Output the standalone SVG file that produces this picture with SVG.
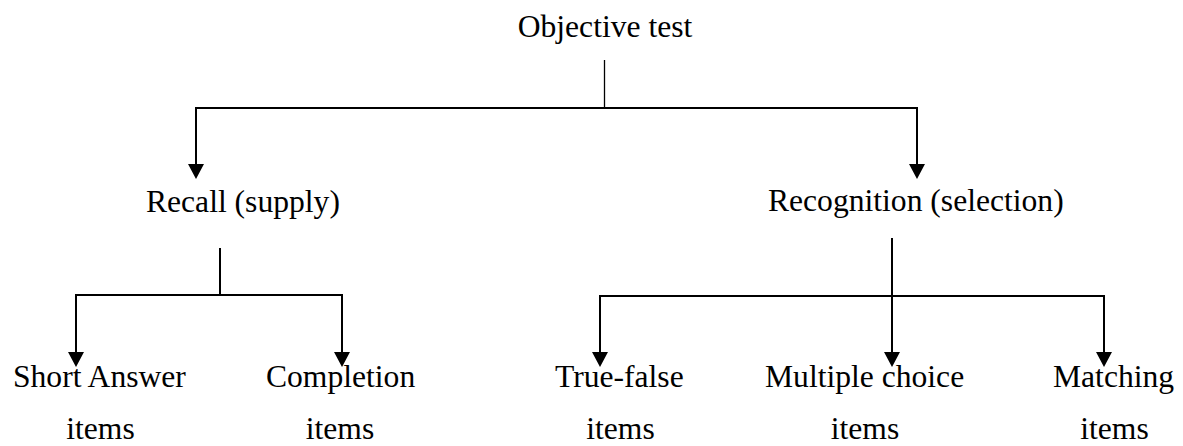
<svg xmlns="http://www.w3.org/2000/svg" width="1183" height="446" viewBox="0 0 1183 446">
  <style>
    .lbl { font-family: "Liberation Serif", "Times New Roman", serif; font-size: 31.6px; fill: #000; }
    .ln { stroke: #000; stroke-width: 2; fill: none; }
    .stem { stroke: #000; stroke-width: 1.3; fill: none; }
    .head { fill: #000; }
  </style>
  <rect width="1183" height="446" fill="#fff"/>

  <g id="connectors">
    <!-- root split -->
    <line class="stem" x1="604.5" y1="60" x2="604.5" y2="108"/>
    <line class="ln" x1="196" y1="108" x2="917" y2="108"/>
    <line class="ln" x1="196" y1="107" x2="196" y2="165"/>
    <path class="head" d="M188,164 L204,164 L196,179 Z"/>
    <line class="ln" x1="917" y1="107" x2="917" y2="165"/>
    <path class="head" d="M909,164 L925,164 L917,179 Z"/>

    <!-- recall split -->
    <line class="ln" x1="220" y1="248" x2="220" y2="295"/>
    <line class="ln" x1="76" y1="295" x2="342" y2="295"/>
    <line class="ln" x1="76" y1="294" x2="76" y2="353"/>
    <path class="head" d="M68,352 L84,352 L76,367 Z"/>
    <line class="ln" x1="342" y1="294" x2="342" y2="353"/>
    <path class="head" d="M334,352 L350,352 L342,367 Z"/>

    <!-- recognition split -->
    <line class="ln" x1="892" y1="238" x2="892" y2="353"/>
    <line class="ln" x1="600" y1="296" x2="1104" y2="296"/>
    <line class="ln" x1="600" y1="295" x2="600" y2="353"/>
    <path class="head" d="M592,352 L608,352 L600,367 Z"/>
    <path class="head" d="M884,352 L900,352 L892,367 Z"/>
    <line class="ln" x1="1104" y1="295" x2="1104" y2="353"/>
    <path class="head" d="M1096,352 L1112,352 L1104,367 Z"/>
  </g>

  <g id="objective-test">
    <text class="lbl" x="605" y="37" text-anchor="middle">Objective test</text>
  </g>
  <g id="recall">
    <text class="lbl" x="146" y="212">Recall (supply)</text>
  </g>
  <g id="recognition">
    <text class="lbl" x="768" y="211">Recognition (selection)</text>
  </g>
  <g id="short-answer">
    <text class="lbl" x="13" y="387">Short Answer</text>
    <text class="lbl" x="100.5" y="439" text-anchor="middle">items</text>
  </g>
  <g id="completion">
    <text class="lbl" x="266" y="387">Completion</text>
    <text class="lbl" x="340" y="439" text-anchor="middle">items</text>
  </g>
  <g id="true-false">
    <text class="lbl" x="555" y="387">True-false</text>
    <text class="lbl" x="620.5" y="439" text-anchor="middle">items</text>
  </g>
  <g id="multiple-choice">
    <text class="lbl" x="765" y="387">Multiple choice</text>
    <text class="lbl" x="865" y="439" text-anchor="middle">items</text>
  </g>
  <g id="matching">
    <text class="lbl" x="1053" y="387">Matching</text>
    <text class="lbl" x="1114.5" y="439" text-anchor="middle">items</text>
  </g>
</svg>
